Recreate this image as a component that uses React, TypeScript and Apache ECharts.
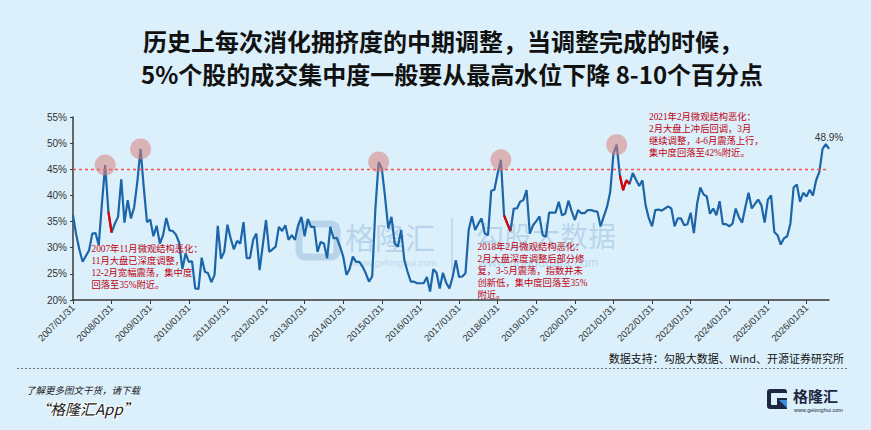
import React, { useEffect, useRef } from "react";
import * as echarts from "echarts";

const START_YEAR = 2007;

// Monthly values (%)
const v2007 = [36.2, 32.5, 29.6, 27.3, 28.4, 29.5, 32.7, 32.8, 30.5, 38.5, 45.8, 36.9];
const v2008 = [32.9, 34.6, 35.9, 43.1, 34.8, 39.1, 35.6, 37.7, 42.6, 48.9, 41.5, 34.9];
const v2009 = [35.4, 32.2, 34.2, 30.8, 32.4, 35.7, 33.3, 33.2, 32.5, 31.0, 25.9, 28.9];
const v2010 = [27.3, 27.4, 22.2, 22.1, 28.1, 25.4, 25.1, 23.4, 24.8, 34.2, 27.9, 29.2];
const v2011 = [34.4, 31.8, 29.7, 31.3, 30.8, 34.9, 28.0, 28.0, 31.5, 32.7, 25.7, 30.5];
const v2012 = [35.3, 29.2, 29.7, 30.2, 34.0, 33.2, 34.3, 31.5, 32.4, 31.5, 34.3, 35.9];
const v2013 = [32.2, 35.5, 34.0, 34.0, 29.2, 31.1, 30.8, 28.0, 34.0, 31.8, 31.9, 30.2];
const v2014 = [28.3, 24.8, 26.0, 28.3, 27.3, 27.3, 26.4, 25.1, 23.5, 24.5, 37.5, 46.4];
const v2015 = [45.1, 39.7, 33.7, 35.9, 30.8, 30.2, 33.4, 27.6, 25.4, 23.5, 23.5, 23.2];
const v2016 = [23.2, 23.2, 24.4, 21.6, 25.9, 25.2, 22.2, 25.2, 23.3, 22.2, 24.4, 27.6];
const v2017 = [24.4, 24.5, 25.1, 33.4, 36.0, 33.4, 34.6, 35.6, 32.7, 32.4, 40.9, 41.1];
const v2018 = [44.2, 46.8, 36.2, 34.6, 33.2, 37.5, 37.5, 38.8, 39.1, 41.0, 32.7, 34.3];
const v2019 = [35.1, 36.0, 32.4, 32.1, 36.7, 36.7, 36.7, 38.8, 36.2, 36.5, 39.0, 37.0];
const v2020 = [35.3, 37.2, 36.6, 36.6, 37.2, 37.2, 37.0, 36.9, 34.1, 36.0, 37.8, 40.7];
const v2021 = [48.0, 49.7, 43.8, 41.0, 42.9, 42.2, 44.3, 43.0, 41.8, 42.9, 38.1, 35.6];
const v2022 = [34.1, 37.2, 37.3, 37.1, 37.5, 37.9, 37.5, 34.1, 35.6, 35.6, 34.3, 34.5];
const v2023 = [36.7, 32.8, 38.4, 41.5, 40.2, 39.8, 36.5, 37.5, 36.2, 38.9, 34.5, 34.5];
const v2024 = [34.1, 34.6, 37.5, 35.8, 34.8, 37.8, 40.5, 37.5, 38.4, 39.2, 38.1, 34.8];
const v2025 = [39.2, 40.0, 33.0, 32.4, 30.6, 31.8, 32.2, 34.6, 41.5, 42.1, 38.8, 40.5];
const v2026 = [39.8, 41.1, 40.0, 42.9, 44.5, 48.9, 49.8, 48.9];

const values = [
  ...v2007, ...v2008, ...v2009, ...v2010, ...v2011, ...v2012, ...v2013,
  ...v2014, ...v2015, ...v2016, ...v2017, ...v2018, ...v2019, ...v2020,
  ...v2021, ...v2022, ...v2023, ...v2024, ...v2025, ...v2026,
];

const categories = values.map((_, i) => {
  const y = START_YEAR + Math.floor(i / 12);
  const m = i % 12;
  const d = new Date(y, m + 1, 0).getDate();
  return `${y}/${String(m + 1).padStart(2, "0")}/${d}`;
});

const peakIdx = [10, 21, 95, 133, 169];
const redRanges = [[11, 12], [134, 136], [170, 173]];
const threshold = 45;

const titleLines = [
  "历史上每次消化拥挤度的中期调整，当调整完成的时候，",
  "5%个股的成交集中度一般要从最高水位下降 8-10个百分点",
];
const note1 = ["2007年11月微观结构恶化：", "11月大盘已深度调整，", "12-2月宽幅震荡，集中度", "回落至35%附近。"];
const note2 = ["2018年2月微观结构恶化：", "2月大盘深度调整后部分修", "复，3-5月震荡，指数并未", "创新低，集中度回落至35%", "附近。"];
const note3 = ["2021年2月微观结构恶化：", "2月大盘上冲后回调，3月", "继续调整，4-6月震荡上行，", "集中度回落至42%附近。"];
const sourceText = "数据支持：勾股大数据、Wind、开源证券研究所";
const footer1 = "了解更多图文干货，请下载";
const footer2 = "“格隆汇App”";

const BG = "#dbf0fb";
const CJK = "'Noto Sans CJK SC', sans-serif";
const WM = "rgba(120,160,205,0.35)";

function txt(x: number, y: number, text: string, style: any, extra: any = {}) {
  return {
    type: "text",
    x,
    y,
    silent: true,
    ...extra,
    style: {
      text,
      fill: "#222",
      textAlign: "left",
      align: "left",
      textVerticalAlign: "middle",
      verticalAlign: "middle",
      ...style,
    },
  };
}

export default function App() {
  const ref = useRef<HTMLDivElement>(null);

  useEffect(() => {
    document.body.style.margin = "0";
    const chart = echarts.init(ref.current!, undefined, { renderer: "svg" });

    const redData = values.map((v, i) =>
      redRanges.some(([a, b]) => i >= a && i <= b) ? v : null
    );
    const lastI = values.length - 1;

    const noteStyle = (lh: number) => ({
      fill: "#c00010",
      fontSize: 9.3,
      fontFamily: "'Liberation Serif', 'Noto Sans CJK SC', serif",
      lineHeight: lh,
      textVerticalAlign: "top",
      verticalAlign: "top",
    });

    const thresholdStyle = { color: "#ff4a4a", type: [3, 3], width: 1.3, opacity: 1 };

    const graphic: any[] = [
      // title
      txt(443, 40, titleLines[0], { fontSize: 24, fontWeight: "bold", fontFamily: CJK, fill: "#111", textAlign: "center", align: "center" }),
      txt(452, 73, titleLines[1], { fontSize: 24, fontWeight: "bold", fontFamily: CJK, fill: "#111", textAlign: "center", align: "center" }),
      // watermark
      {
        type: "rect",
        silent: true,
        shape: { x: 299, y: 224, width: 38, height: 33, r: 6 },
        style: { fill: "none", stroke: WM, lineWidth: 7 },
      },
      txt(345, 236, "格隆汇", { fontSize: 30, fontFamily: CJK, fill: WM }),
      txt(352, 262, "www.gelonghui.com", { fontSize: 9.5, fontFamily: "'Liberation Sans', sans-serif", fill: WM }),
      {
        type: "line",
        silent: true,
        shape: { x1: 452, y1: 218, x2: 452, y2: 270 },
        style: { stroke: WM, lineWidth: 1.5 },
      },
      txt(476, 235, "勾股大数据", { fontSize: 28, fontFamily: CJK, fill: WM }),
      txt(478, 262, "www.gougudata.com", { fontSize: 13, fontFamily: "'Liberation Sans', sans-serif", fill: WM }),
      // notes
      txt(91.5, 243.5, note1.join("\n"), noteStyle(11.8), { z: 100 }),
      txt(477.5, 240.7, note2.join("\n"), noteStyle(12.1), { z: 100 }),
      txt(649, 110.6, note3.join("\n"), noteStyle(12.2), { z: 100 }),
      // source
      txt(844, 358, sourceText, { fontSize: 11, fontFamily: CJK, fill: "#111", textAlign: "right", align: "right" }),
      // separator
      {
        type: "line",
        silent: true,
        shape: { x1: 17, y1: 368.5, x2: 847, y2: 368.5 },
        style: { stroke: "#555", lineWidth: 0.8, lineDash: [2, 2] },
      },
      // footer
      txt(26, 390, footer1, { fontSize: 9.5, fontFamily: CJK, fill: "#222", fontStyle: "italic" }),
      txt(35, 408, footer2, { fontSize: 15, fontFamily: CJK, fill: "#222", fontStyle: "italic", stroke: "#ffffff", lineWidth: 2 }),
      // logo
      {
        type: "rect",
        silent: true,
        shape: { x: 767, y: 389, width: 20, height: 20, r: 3 },
        style: { fill: "#1d2742" },
      },
      {
        type: "rect",
        silent: true,
        shape: { x: 771, y: 393, width: 16, height: 12, r: 1 },
        style: { fill: BG },
      },
      {
        type: "polygon",
        silent: true,
        shape: { points: [[777, 398], [787, 398], [787, 409], [777, 409]] },
        style: { fill: "#1d2742" },
      },
      {
        type: "polygon",
        silent: true,
        shape: { points: [[779, 400], [787, 400], [787, 408]] },
        style: { fill: "#3b8fe0" },
      },
      txt(793, 395.5, "格隆汇", { fontSize: 15, fontWeight: "bold", fontFamily: CJK, fill: "#1d2742" }),
      txt(794, 410, "www.gelonghui.com", { fontSize: 5.5, fontFamily: "'Liberation Sans', sans-serif", fill: "#1d2742" }),
    ];

    const option: any = {
      animation: false,
      backgroundColor: BG,
      grid: { left: 73, right: 42, top: 117, bottom: 130, containLabel: false },
      xAxis: {
        type: "category",
        data: categories,
        boundaryGap: false,
        axisLine: { show: true, lineStyle: { color: "#3a3a3a", width: 1.5 } },
        axisTick: { show: true, interval: 11, length: 4, lineStyle: { color: "#3a3a3a" } },
        axisLabel: {
          interval: 11,
          rotate: 45,
          fontSize: 9.5,
          color: "#333",
          fontFamily: "'Liberation Sans', Arial, sans-serif",
          margin: 6,
        },
        splitLine: { show: false },
      },
      yAxis: {
        type: "value",
        min: 20,
        max: 55,
        interval: 5,
        axisLine: { show: true, lineStyle: { color: "#3a3a3a", width: 1.5 } },
        axisTick: { show: true, length: 3, lineStyle: { color: "#3a3a3a" } },
        axisLabel: {
          formatter: "{value}%",
          fontSize: 10,
          color: "#333",
          fontFamily: "'Liberation Sans', Arial, sans-serif",
          margin: 6,
        },
        splitLine: { show: false },
      },
      series: [
        {
          type: "line",
          data: values,
          symbol: "none",
          showSymbol: false,
          z: 3,
          lineStyle: { color: "#1b65a8", width: 2.2 },
          itemStyle: { color: "#1b65a8" },
          markLine: {
            silent: true,
            symbol: "none",
            label: { show: false },
            lineStyle: thresholdStyle,
            data: [{ yAxis: threshold, lineStyle: thresholdStyle }],
          },
          markPoint: {
            silent: true,
            symbol: "circle",
            symbolSize: 21,
            itemStyle: { color: "rgba(215,130,125,0.55)" },
            label: { show: false },
            data: peakIdx.map((i) => ({ coord: [categories[i], values[i]] })),
          },
        },
        {
          type: "line",
          data: redData,
          symbol: "none",
          showSymbol: false,
          connectNulls: false,
          z: 4,
          lineStyle: { color: "#e00000", width: 2.2 },
          itemStyle: { color: "#e00000" },
          markPoint: {
            silent: true,
            symbol: "circle",
            symbolSize: 1,
            itemStyle: { color: "rgba(0,0,0,0)" },
            label: {
              show: true,
              position: "top",
              distance: 6,
              formatter: (p: any) => `${Number(p.value).toFixed(1)}%`,
              color: "#333",
              fontSize: 10,
              fontFamily: "'Liberation Sans', Arial, sans-serif",
            },
            data: [{ coord: [categories[lastI], values[lastI]], value: values[lastI] }],
          },
        },
      ],
      graphic,
    };

    chart.setOption(option);
    return () => chart.dispose();
  }, []);

  return (
    <div
      ref={ref}
      style={{ position: "absolute", left: 0, top: 0, width: 871, height: 430, background: BG }}
    />
  );
}
